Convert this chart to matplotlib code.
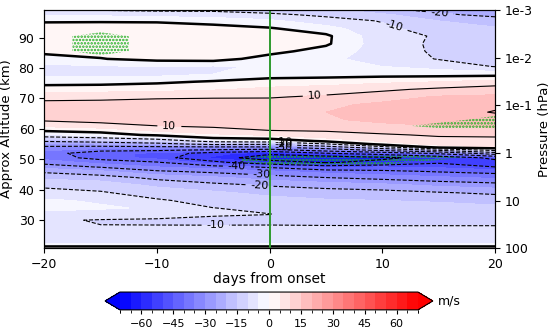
import numpy as np
import matplotlib
matplotlib.use("Agg")
import matplotlib.pyplot as plt
from matplotlib.ticker import MultipleLocator

plt.rcParams['hatch.color'] = '#22b022'
plt.rcParams['hatch.linewidth'] = 1.2

# composite zonal wind (m/s)
days = [-20, -15, -10, -5, 0, 5, 10, 15, 20]
alt_km = [20.5, 23, 26, 28, 30, 32, 34, 36.5, 39, 41.5, 44, 46, 47.5, 49, 50.5,
          52, 53, 54, 55, 56, 57, 58, 59.5, 61, 63, 65.5, 68, 70.5, 73, 75.5,
          78, 80.5, 83, 85.5, 88, 90.5, 93, 95.5, 97.5, 99.5]

u_m20 = [4, -7.5, -6, -8, -9.3, -6, -4, -4.5, -7.5, -11.5,
         -16, -21, -27, -32, -37, -37.5, -34, -31, -27, -19,
         -12.5, -6, 1, 6, 11, 12.5, 11.5, 8.5, 3, -2.5,
         -6, -6, -2.5, 1.5, 2, 2.5, 2, -0.5, -6, -11.5]
u_m15 = [4, -7.5, -6, -9.9, -10.3, -7, -4.5, -5.5, -9.5, -12,
         -17.5, -24, -30.5, -37, -42, -43.5, -38.5, -32, -25, -17,
         -10.5, -2.5, 2, 8, 12, 13.5, 12, 8.5, 3, -2,
         -6, -5.5, -0.2, 1.5, 1.5, 2, 1.5, -0.3, -6, -11.5]
u_m10 = [4, -7.5, -6.5, -9.85, -10.6, -8, -5.5, -9.5, -12, -16,
         -21.5, -29, -35, -39.5, -47, -46, -39, -31.5, -22.5, -14.5,
         -7, 1, 6, 10, 13, 14, 13, 9, 3.5, -1,
         -6.5, -5, 1.5, 2, 2, 2.5, 2, -0.5, -7, -12]
u_m5 = [4, -7.5, -6.5, -9.85, -10.7, -9.6, -9.95, -11.5, -14, -18.5,
        -24, -31.5, -37.5, -48, -56, -53, -41.5, -31, -18, -7.5,
        0, 4, 8, 11, 12.5, 13, 12.5, 9.5, 4.5, 0.5,
        -5, -5.5, 2, 2.5, 3, 3, 2, -2, -7.5, -12]
u_0 = [4, -7.5, -6.5, -9.85, -10.6, -9.95, -10.8, -13, -16.5, -20.5,
       -27.5, -34, -41, -56, -65, -58, -44, -31, -19, -6,
       2, 5.5, 10, 11.5, 12.5, 13, 13, 9.5, 6, 2.5,
       -3, -4.5, -2, 1.5, 4, 3.5, 0.5, -4, -9, -13]
u_5 = [4, -7.5, -7, -9.85, -11, -11.5, -12.5, -14.5, -17.5, -22,
       -30, -37, -46, -61, -66, -50, -36, -24, -11, 1.5,
       5, 8, 10.5, 13, 14.5, 15, 14, 11, 7, 3,
       -2.5, -4.5, -4, -2, 0.8, 1, -3, -8, -11, -15]
u_10 = [4, -7.5, -7, -9.85, -11.5, -12, -13, -15, -18, -23.5,
        -32, -38.5, -45, -57, -62, -45, -28, -13, 3, 5.5,
        7.5, 9.5, 11.5, 14, 16, 17, 16, 13, 9, 4,
        -2, -5, -7, -7.5, -8, -8.5, -9, -10.3, -14, -19.5]
u_15 = [4, -7.5, -7, -9.85, -11.5, -12.5, -13.5, -15.5, -19.5, -26,
        -34, -40.5, -46, -51, -56, -38, -19, 3, 6, 8,
        9.5, 10.5, 12.5, 15, 17, 18, 17.5, 15.5, 11, 5,
        -2, -7, -10.3, -10.8, -10.8, -10.4, -12, -15, -19, -22]
u_20 = [4, -7.5, -7, -9.85, -11.5, -12.5, -14, -16.5, -21, -27.5,
        -36, -42, -50, -53, -48, -24, -8, 5, 7, 8.5,
        9.5, 11, 13, 16, 18, 20.3, 19, 16, 12.5, 7,
        -2, -10.2, -12, -13.5, -14, -14, -14.5, -17, -21.5, -24]

# grid points flagged significant (stippled)
sig_days = [-15, -15, -15, 0, 0, 5, 5, 10, 10, 15, 15, 20, 20]
sig_alts = [85.5, 88, 90.5, 49, 50.5, 49, 50.5, 49, 50.5, 50.5, 61, 61, 63]

onset_day = 0
p_ticks = [1e-3, 1e-2, 1e-1, 1, 10, 100]
p_labels = ['1e-3', '1e-2', '1e-1', '1', '10', '100']

u = np.column_stack([u_m20, u_m15, u_m10, u_m5, u_0, u_5, u_10, u_15, u_20])
sig = np.zeros_like(u)
for d, a in zip(sig_days, sig_alts):
    sig[alt_km.index(a), days.index(d)] = 1

fig = plt.figure(figsize=(5.5, 3.3), dpi=100)
ax = fig.add_axes([0.0805, 0.248, 0.8195, 0.722])

levels = np.arange(-70, 71, 5)
cf = ax.contourf(days, alt_km, u, levels=levels, cmap='bwr', extend='both')
ax.contourf(days, alt_km, sig, levels=[0.5, 1.5], colors='none', hatches=['.....'])

cs_neg = ax.contour(days, alt_km, u, levels=np.arange(-70, 0, 10), colors='k',
                    linewidths=0.8, linestyles='dashed')
cs_pos = ax.contour(days, alt_km, u, levels=np.arange(10, 71, 10), colors='k',
                    linewidths=0.8, linestyles='solid')
ax.contour(days, alt_km, u, levels=[0], colors='k', linewidths=1.8)

ax.clabel(cs_neg, fmt='%d', fontsize=8, inline=True,
          manual=[(-2.9, 47.6), (-0.7, 44.8), (-0.9, 41.3), (-4.8, 28.4),
                  (11.1, 94.7), (15.1, 98.2), (1.2, 55.9), (1.2, 55.1), (1.2, 54.3)])
ax.clabel(cs_pos, fmt='%d', fontsize=8, inline=True,
          manual=[(-8.9, 60.8), (4.0, 71.2)])

ax.axvline(onset_day, color='#2e9a2e', lw=1.4)

ax.set_xlim(-20, 20)
ax.set_ylim(20.8, 99.1)
ax.set_xticks([-20, -10, 0, 10, 20])
ax.set_yticks([30, 40, 50, 60, 70, 80, 90])
ax.tick_params(labelsize=9)
ax.set_xlabel('days from onset', fontsize=10, labelpad=1)
ax.set_ylabel('Approx Altitude (km)', fontsize=9.5)

ax2 = ax.twinx()
ax2.set_yscale('log')
ax2.set_ylim(100, 1e-3)
ax2.set_yticks(p_ticks)
ax2.set_yticklabels(p_labels)
ax2.minorticks_off()
ax2.tick_params(labelsize=9)
ax2.set_ylabel('Pressure (hPa)', fontsize=9.5)

cax = fig.add_axes([0.191, 0.061, 0.596, 0.054])
cb = fig.colorbar(cf, cax=cax, orientation='horizontal')
cb.set_ticks(np.arange(-60, 61, 15))
cb.ax.xaxis.set_minor_locator(MultipleLocator(5))
cb.ax.tick_params(labelsize=8, length=3)
cb.ax.tick_params(which='minor', length=2)
fig.text(0.797, 0.088, 'm/s', fontsize=9, va='center')

fig.savefig('out.png', dpi=100)
